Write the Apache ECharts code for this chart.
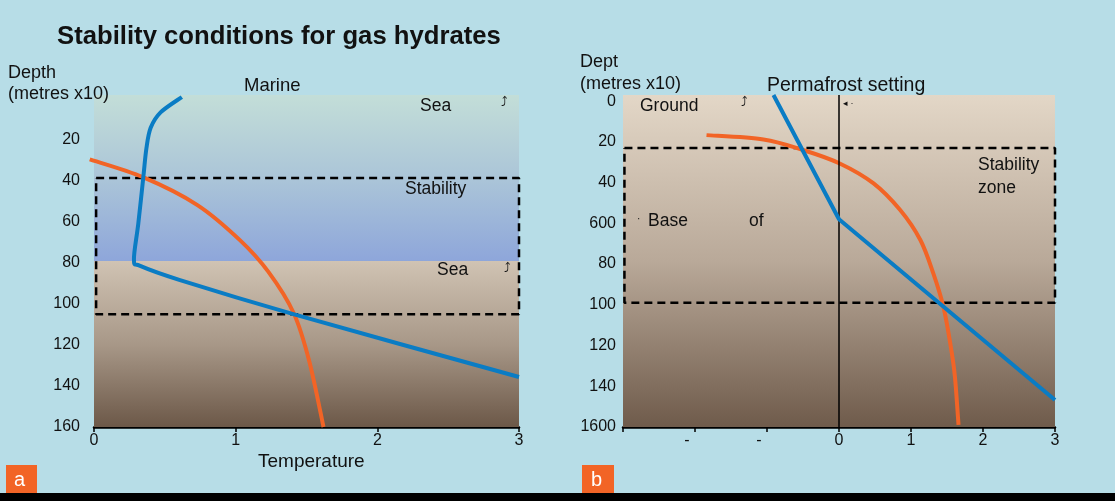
<!DOCTYPE html>
<html>
<head>
<meta charset="utf-8">
<script src="https://cdn.jsdelivr.net/npm/echarts@6/dist/echarts.min.js"></script>
<style>
  html, body { margin: 0; padding: 0; background: #b7dde7; }
  #main { width: 1115px; height: 501px; }
</style>
</head>
<body>
<div id="main"></div>
<script>
// depth in metres x10, temperature axis in the schematic units
var leftDepthTicks = [20, 40, 60, 80, 100, 120, 140, 160];
var rightDepthTicks = [0, 20, 40, 60, 80, 100, 120, 140, 160];
var rightDepthLabels = ['0', '20', '40', '600', '80', '100', '120', '140', '1600'];
var leftTempLabels = ['0', '1', '2', '3'];
var rightTempLabels = ['', '-', '-', '0', '1', '2', '3'];

// marine panel
var seaLayer = [-2, 79];
var sedimentLayer = [79, 160];
var marineStability = [[0.015, 38.5], [3, 38.5], [3, 105], [0.015, 105], [0.015, 38.5]];
var marinePhase = [[-0.03, 29.4], [0.35, 38.2], [0.73, 51.7], [1.03, 68.8], [1.23, 84.2],
    [1.41, 104.5], [1.52, 128], [1.62, 160]];
var marineGeotherm = [[0.62, -1], [0.47, 6.5], [0.40, 14], [0.37, 24], [0.348, 38.2],
    [0.313, 60.6], [0.282, 78.5], [0.33, 81.5], [0.607, 88.3], [1.407, 104.9], [3, 135.6]];

// permafrost panel
var groundLayer = [-3, 160];
var permafrostStability = [[-2.98, 23], [3, 23], [3, 99], [-2.98, 99], [-2.98, 23]];
var permafrostPhase = [[-1.84, 16.7], [-1.05, 18.8], [-0.5, 24], [0.01, 30.6], [0.48, 40.4],
    [0.85, 53.5], [1.13, 68.2], [1.31, 84.6], [1.45, 101], [1.55, 120], [1.61, 135.3], [1.66, 159]];
var permafrostGeotherm = [[-0.91, -3], [0, 58], [3, 146.7]];
var zeroLine = [[0, -3], [0, 160]];

var orange = '#f26426';
var blue = '#0a7cc4';

function grad(stops) {
    return new echarts.graphic.LinearGradient(0, 0, 0, 1, stops.map(function (c, i) {
        return { offset: i / (stops.length - 1), color: c };
    }));
}

function xAxisOf(idx, min, max, labels) {
    return {
        type: 'value', gridIndex: idx, min: min, max: max, interval: 1,
        axisLine: { show: true, onZero: false, lineStyle: { color: '#000', width: 2.5 } },
        axisTick: { show: true, length: 5, lineStyle: { color: '#000', width: 1.5 } },
        splitLine: { show: false },
        axisLabel: {
            color: '#111', fontSize: 16, margin: 6, fontFamily: 'Liberation Sans',
            showMinLabel: true, showMaxLabel: true,
            formatter: function (v) {
                var s = labels[Math.round(v - min)];
                return s === '-' ? '{d|-}' : s;
            },
            rich: { d: { padding: [0, 16, 0, 0], fontSize: 16, color: '#111' } }
        }
    };
}

function yAxisOf(idx, min, ticks, labels) {
    return {
        type: 'value', gridIndex: idx, inverse: true, min: min, max: 160,
        axisLine: { show: false }, axisTick: { show: false }, splitLine: { show: false },
        axisLabel: {
            color: '#111', fontSize: 16, fontFamily: 'Liberation Sans', margin: idx === 0 ? 14 : 7,
            customValues: ticks,
            formatter: function (v) {
                var i = ticks.indexOf(v);
                return labels ? labels[i] : String(v);
            }
        }
    };
}

function band(idx, x0, x1, range, colors) {
    return {
        type: 'line', xAxisIndex: idx, yAxisIndex: idx, data: [], silent: true, z: 0,
        markArea: {
            silent: true,
            itemStyle: { color: grad(colors) },
            data: [[{ xAxis: x0, yAxis: range[0] }, { xAxis: x1, yAxis: range[1] }]]
        }
    };
}

function curve(idx, data, color, width, dashed) {
    return {
        type: 'line', xAxisIndex: idx, yAxisIndex: idx, data: data, showSymbol: false,
        clip: false, silent: true, z: dashed ? 3 : 4,
        lineStyle: { color: color, width: width, type: dashed ? [8, 5] : 'solid' }
    };
}

// smooth curve through the points (catmull-rom), positioned by the axes
function spline(idx, data, color, width) {
    return {
        type: 'custom', xAxisIndex: idx, yAxisIndex: idx, data: data, silent: true, z: 4,
        encode: { x: 0, y: 1 },
        renderItem: function (params, api) {
            if (params.dataIndex !== 0) return;
            var p = data.map(function (d) { return api.coord(d); });
            var path = 'M' + p[0][0] + ' ' + p[0][1];
            for (var i = 0; i < p.length - 1; i++) {
                var p0 = p[Math.max(i - 1, 0)], p1 = p[i], p2 = p[i + 1], p3 = p[Math.min(i + 2, p.length - 1)];
                var c1x = p1[0] + (p2[0] - p0[0]) / 6, c1y = p1[1] + (p2[1] - p0[1]) / 6;
                var c2x = p2[0] - (p3[0] - p1[0]) / 6, c2y = p2[1] - (p3[1] - p1[1]) / 6;
                path += ' C' + c1x + ' ' + c1y + ' ' + c2x + ' ' + c2y + ' ' + p2[0] + ' ' + p2[1];
            }
            return {
                type: 'path', shape: { pathData: path },
                style: { fill: null, stroke: color, lineWidth: width, lineJoin: 'round' }
            };
        }
    };
}

// x, y: left edge and vertical middle of the text
function txt(x, y, s, size, extra) {
    var st = { text: s, fill: '#111', font: (size || 17) + 'px "Liberation Sans"', align: 'left', verticalAlign: 'middle' };
    if (extra) Object.keys(extra).forEach(function (k) { st[k] = extra[k]; });
    return { type: 'text', x: x, y: y, z: 20, style: st };
}

var myChart = echarts.init(document.getElementById('main'));

myChart.setOption({
    backgroundColor: '#b7dde7',
    animation: false,
    grid: [
        { left: 94, top: 95, width: 425, height: 332 },
        { left: 623, top: 95, width: 432, height: 332 }
    ],
    xAxis: [xAxisOf(0, 0, 3, leftTempLabels), xAxisOf(1, -3, 3, rightTempLabels)],
    yAxis: [yAxisOf(0, -2, leftDepthTicks), yAxisOf(1, -3, rightDepthTicks, rightDepthLabels)],
    series: [
        band(0, 0, 3, seaLayer, ['#c3ded8', '#abc5d8', '#8ea6da']),
        band(0, 0, 3, sedimentLayer, ['#d0c3b3', '#a89888', '#6c5848']),
        curve(0, marineStability, '#000', 2.5, true),
        spline(0, marinePhase, orange, 4),
        spline(0, marineGeotherm, blue, 4),
        band(1, -3, 3, groundLayer, ['#e3d7c7', '#b9a999', '#6f5b4b']),
        curve(1, zeroLine, '#000', 1.5),
        curve(1, permafrostStability, '#000', 2.5, true),
        spline(1, permafrostPhase, orange, 4),
        curve(1, permafrostGeotherm, blue, 4)
    ],
    graphic: [
        { type: 'rect', shape: { x: 0, y: 493, width: 1115, height: 8 }, style: { fill: '#000' }, z: 20 },
        { type: 'rect', shape: { x: 6, y: 465, width: 31, height: 28 }, style: { fill: '#f26426' }, z: 20 },
        { type: 'rect', shape: { x: 582, y: 465, width: 32, height: 28 }, style: { fill: '#f26426' }, z: 20 },
        txt(14, 480, 'a', 20, { fill: '#fff' }),
        txt(591, 480, 'b', 20, { fill: '#fff' }),
        txt(57, 37, 'Stability conditions for gas hydrates', 25.7, { font: 'bold 25.7px "Liberation Sans"' }),
        txt(8, 73, 'Depth', 18),
        txt(8, 94, '(metres x10)', 18),
        txt(244, 86, 'Marine', 18.5),
        txt(420, 106, 'Sea', 17.5),
        txt(501, 102, '⤴', 13),
        txt(405, 189, 'Stability', 17.5),
        txt(437, 270, 'Sea', 17.5),
        txt(504, 268, '⤴', 13),
        txt(258, 462, 'Temperature', 19),
        txt(580, 62, 'Dept', 18),
        txt(580, 84, '(metres x10)', 18),
        txt(767, 86, 'Permafrost setting', 19.5),
        txt(640, 106, 'Ground', 17.5),
        txt(741, 102, '⤴', 13),
        txt(843, 104, '◂ ·', 9),
        txt(978, 165, 'Stability', 17.5),
        txt(978, 188, 'zone', 17.5),
        txt(637, 219, '·', 10),
        txt(648, 221, 'Base', 17.5),
        txt(749, 221, 'of', 17.5)
    ]
});
window.onresize = function () {
    myChart.resize();
};
</script>
</body>
</html>
